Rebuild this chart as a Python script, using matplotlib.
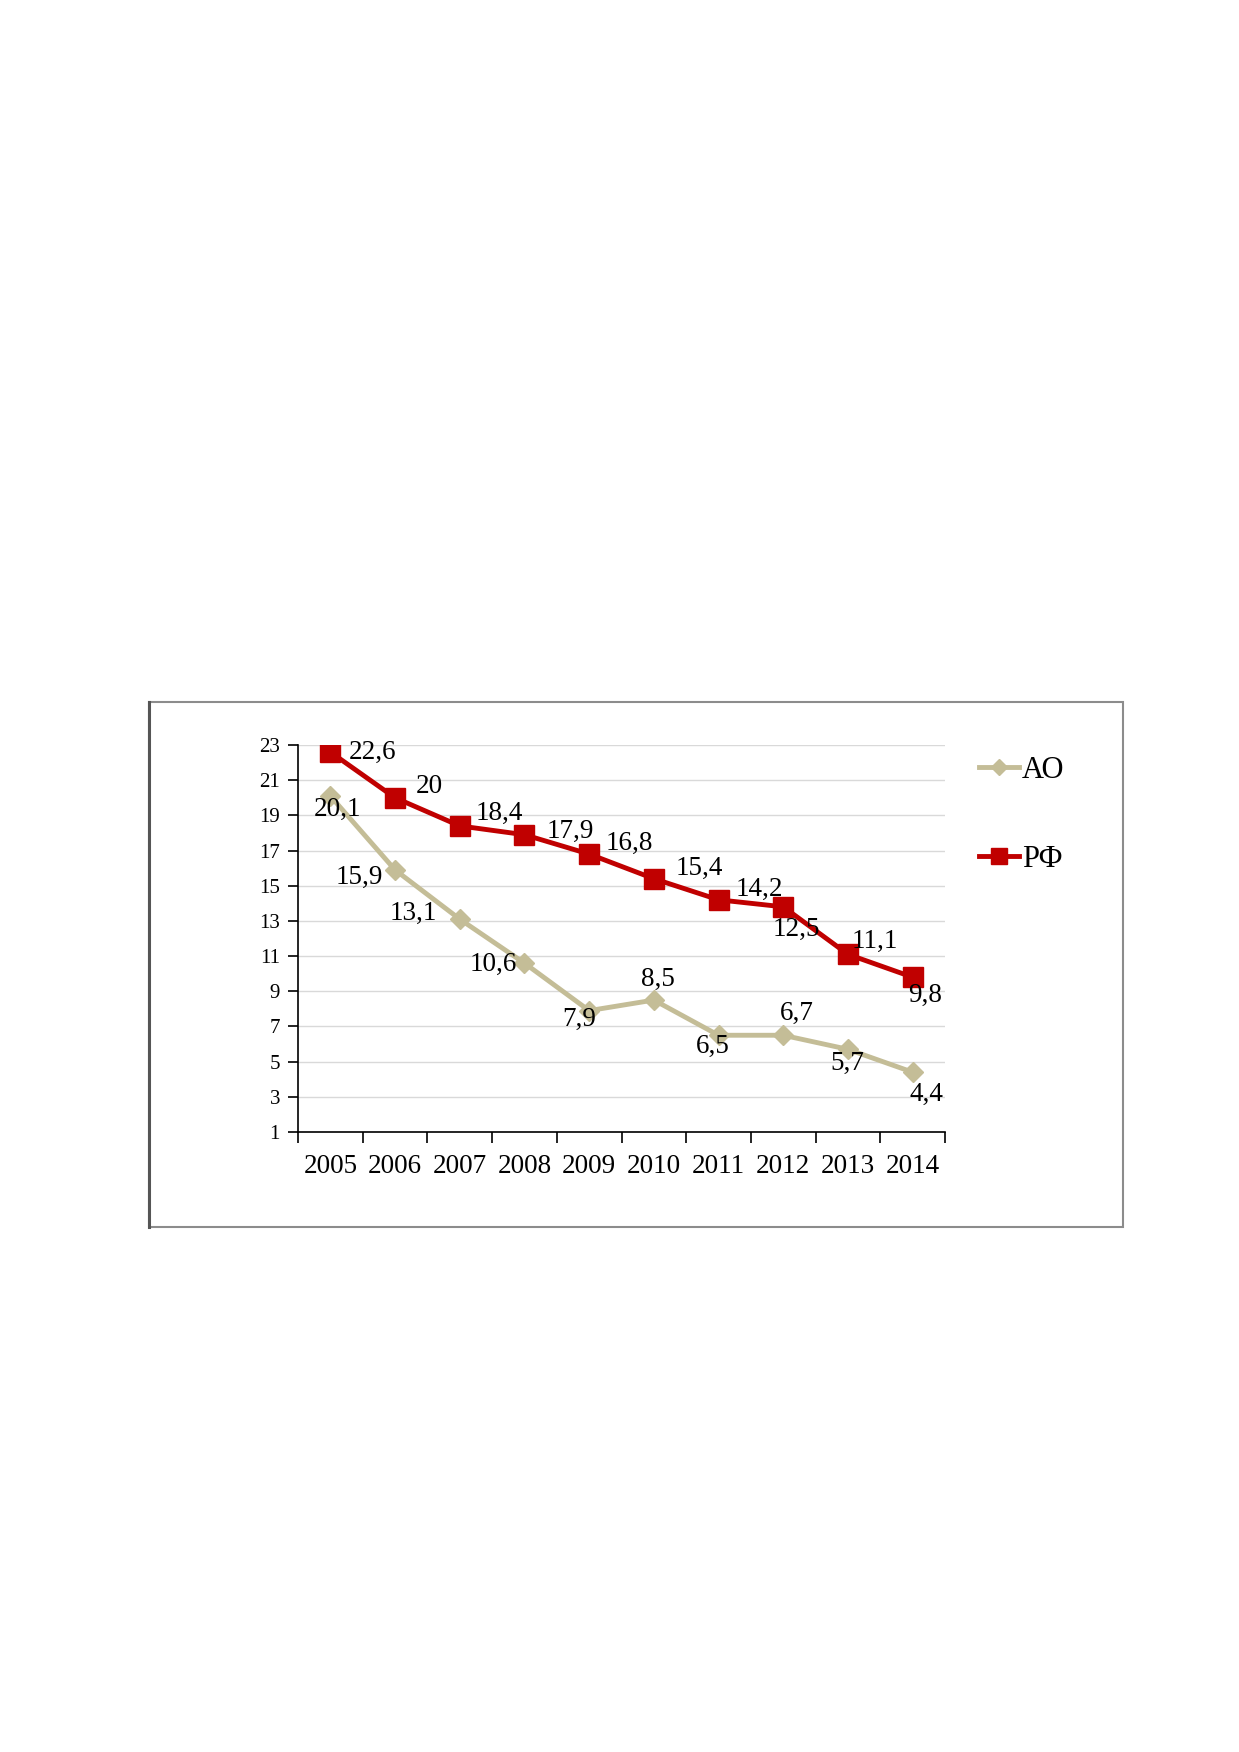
import matplotlib.pyplot as plt
from matplotlib.patches import Rectangle
from matplotlib.lines import Line2D

# данные
years = ["2005", "2006", "2007", "2008", "2009", "2010", "2011", "2012", "2013", "2014"]
ao = [20.1, 15.9, 13.1, 10.6, 7.9, 8.5, 6.5, 6.5, 5.7, 4.4]
rf = [22.6, 20.0, 18.4, 17.9, 16.8, 15.4, 14.2, 13.8, 11.1, 9.8]
ao_labels = ["20,1", "15,9", "13,1", "10,6", "7,9", "8,5", "6,5", "6,7", "5,7", "4,4"]
rf_labels = ["22,6", "20", "18,4", "17,9", "16,8", "15,4", "14,2", "12,5", "11,1", "9,8"]

# смещения подписей (точки), dy вниз положительно
ao_off = [(6, 12), (-32, 7), (-42, -5), (-28, 1), (-9, 8), (4, -19), (-5, 10), (12, -20), (-1, 13), (12, 20)]
rf_off = [(38, 0), (31, -10), (36, -11), (41, -3), (36, -10), (41, -9), (37, -9), (12, 20), (24, -12), (11, 16)]

ao_color = "#C4BD97"
rf_color = "#C00000"
plt.rcParams['font.family'] = ["Liberation Serif", "DejaVu Serif"]

W, H = 1239, 1752
fig = plt.figure(figsize=(W / 100, H / 100), dpi=100)

# рамка диаграммы (в пикселях)
fl, fr, ft, fb = 149, 1123, 702, 1227
fig.patches.append(Rectangle((fl / W, 1 - fb / H), (fr - fl) / W, (fb - ft) / H,
                             transform=fig.transFigure, fill=False,
                             edgecolor="#8C8C8C", linewidth=1.5))
fig.lines.append(Line2D([fl / W, fl / W], [1 - fb / H, 1 - ft / H], transform=fig.transFigure,
                        color="#555555", linewidth=2.2))

al, ar, at, ab = 298, 945, 745, 1132
ax = fig.add_axes([al / W, 1 - ab / H, (ar - al) / W, (ab - at) / H])
x = list(range(len(years)))

ax.plot(x, ao, color=ao_color, linewidth=3.5, marker="D", markersize=10, label="АО", zorder=3)
ax.plot(x, rf, color=rf_color, linewidth=3.5, marker="s", markersize=14, label="РФ", zorder=4)

k = 0.8
for i in x:
    ax.annotate(ao_labels[i], (i, ao[i]), xytext=(ao_off[i][0] * k, -ao_off[i][1] * k),
                textcoords="offset points", ha="center", va="center", fontsize=19.5, zorder=5)
    ax.annotate(rf_labels[i], (i, rf[i]), xytext=(rf_off[i][0] * k, -rf_off[i][1] * k),
                textcoords="offset points", ha="center", va="center", fontsize=19.5, zorder=5)

ax.set_xlim(-0.5, len(years) - 0.5)
ax.set_ylim(1, 23)
ax.set_yticks(range(1, 24, 2))
ax.set_xticks(x)
ax.set_xticklabels(years, fontsize=19.5)
ax.set_xticks([i - 0.5 for i in range(len(years) + 1)], minor=True)
ax.tick_params(axis="x", which="major", length=0, pad=16)
ax.tick_params(axis="x", which="minor", length=8, width=1.2, direction="out")
ax.tick_params(axis="y", length=7, width=1.2, labelsize=15, pad=6)
ax.grid(axis="y", color="#D9D9D9", linewidth=1)
ax.set_axisbelow(True)
for s in ["top", "right"]:
    ax.spines[s].set_visible(False)
for s in ["left", "bottom"]:
    ax.spines[s].set_linewidth(1.2)

fig.legend(loc="upper left", bbox_to_anchor=(0.79, 0.5685), frameon=False,
           fontsize=22, handlelength=1.3, handletextpad=0.1, labelspacing=1.95,
           borderpad=0, borderaxespad=0, markerscale=0.85)

fig.savefig("out.png", dpi=100)
